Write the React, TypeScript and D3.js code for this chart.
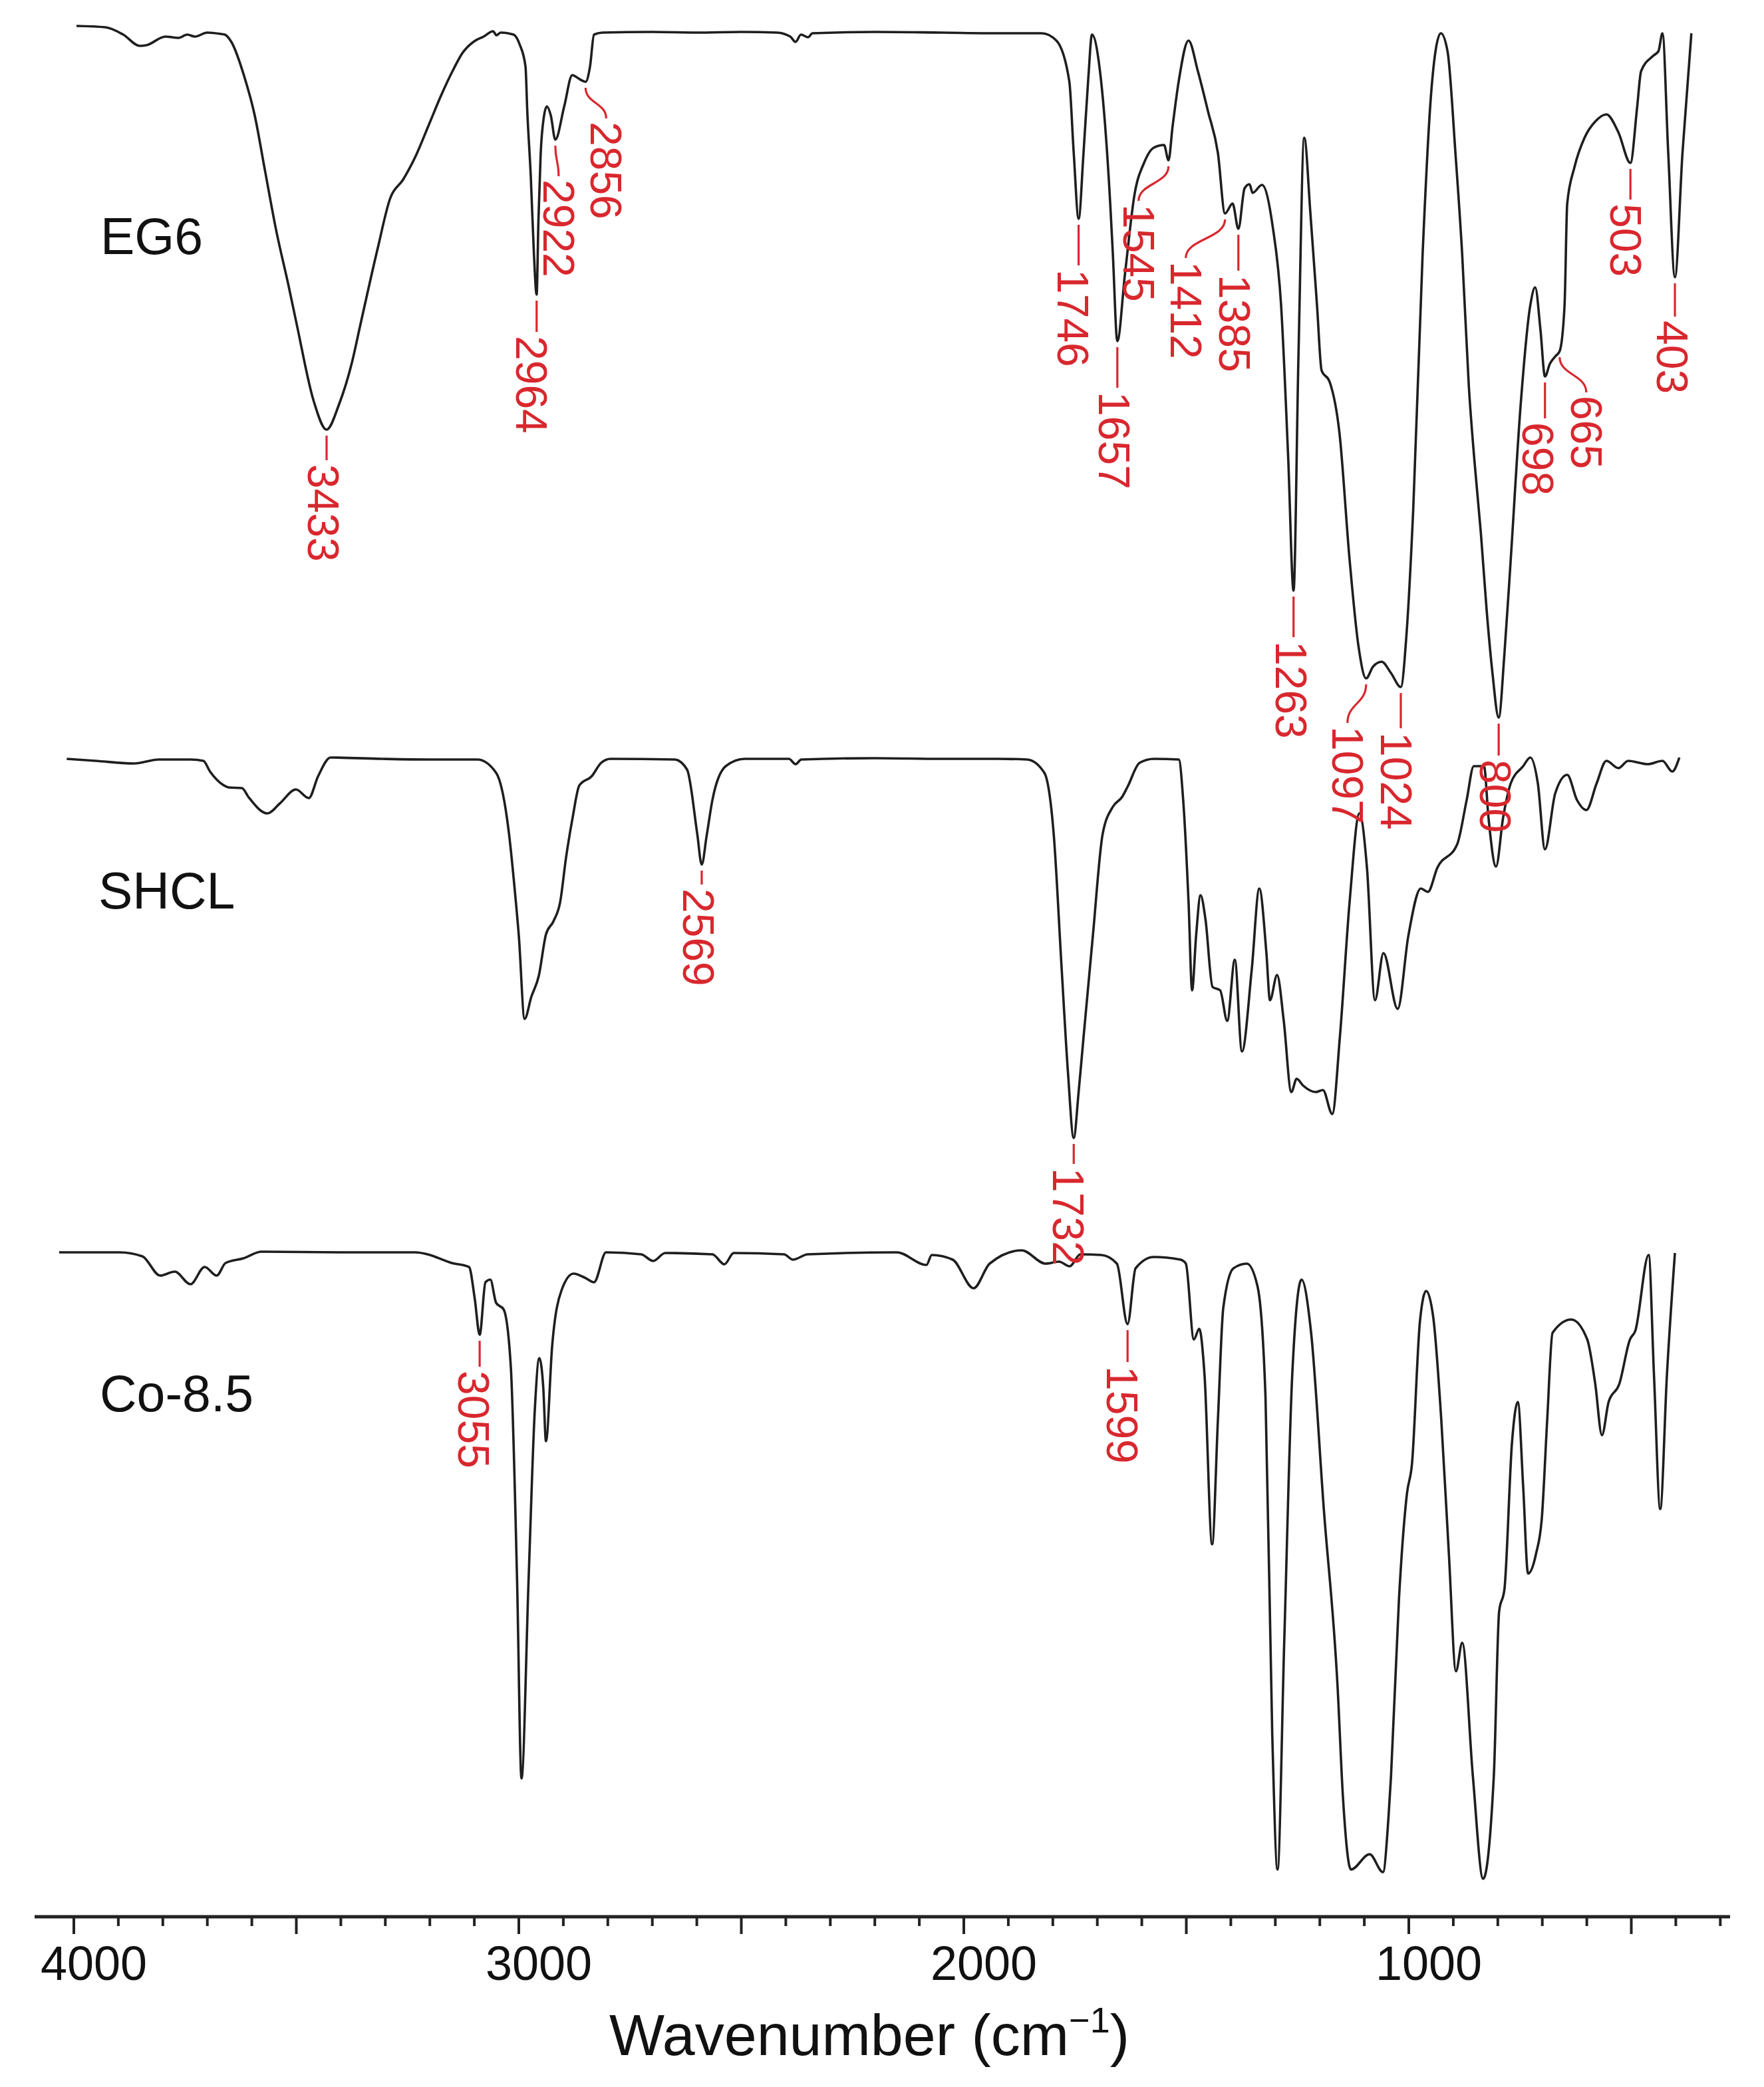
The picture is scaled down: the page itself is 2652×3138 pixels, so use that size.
import React from "react";
import * as d3 from "d3";

type Pt = [number, number];

// FTIR spectra: [wavenumber cm-1, transmittance (a.u., stacked)]
const eg6: Pt[] = [
  [3994, 284.3], [3929, 284.1], [3889, 283.0], [3852, 281.3], [3837, 281.4], [3794, 282.7],
  [3765, 282.5], [3745, 283.0], [3728, 282.7], [3700, 283.3], [3670, 283.1], [3661, 283.0],
  [3646, 281.9], [3617, 276.7], [3594, 271.0], [3570, 262.4], [3546, 253.8], [3517, 245.1],
  [3499, 239.4], [3461, 227.9], [3432, 223.6], [3404, 227.4], [3375, 233.7], [3356, 239.4],
  [3317, 250.9], [3289, 258.4], [3260, 261.2], [3232, 264.7], [3203, 269.3], [3175, 273.8],
  [3146, 277.9], [3127, 280.2], [3100, 282.0], [3079, 282.7], [3058, 283.5], [3050, 282.9],
  [3041, 283.3], [3012, 283.0], [2998, 281.5], [2985, 278.2], [2981, 271.5], [2973, 261.5],
  [2966, 249.9], [2960, 243.9], [2956, 254.9], [2951, 264.9], [2944, 270.5], [2937, 272.2],
  [2928, 270.8], [2918, 267.2], [2898, 272.2], [2880, 276.9], [2861, 276.2], [2850, 275.9],
  [2840, 278.2], [2831, 283.0], [2812, 283.3], [2700, 283.4], [2600, 283.3], [2500, 283.4],
  [2420, 283.3], [2390, 282.7], [2378, 281.9], [2366, 283.0], [2350, 282.6], [2340, 283.2],
  [2200, 283.4], [2050, 283.3], [1923, 283.2], [1825, 283.2], [1792, 282.1], [1763, 276.0],
  [1753, 265.2], [1742, 255.3], [1731, 265.2], [1720, 276.7], [1712, 283.0], [1694, 277.5],
  [1671, 257.6], [1665, 249.9], [1655, 236.9], [1638, 246.9], [1616, 259.1], [1595, 263.7],
  [1573, 266.0], [1550, 266.4], [1540, 264.1], [1531, 269.1], [1517, 276.0], [1495, 282.1],
  [1474, 277.5], [1451, 271.4], [1429, 265.2], [1413, 256.1], [1396, 257.6], [1383, 253.8],
  [1369, 259.9], [1358, 260.5], [1351, 259.2], [1330, 260.4], [1306, 254.2], [1287, 242.3],
  [1271, 219.3], [1259, 199.4], [1248, 234.6], [1235, 267.5], [1221, 256.0], [1206, 242.0],
  [1196, 232.5], [1178, 230.8], [1156, 223.2], [1133, 204.0], [1113, 191.0], [1096, 186.2],
  [1080, 188.0], [1061, 188.7], [1040, 187.0], [1018, 184.9], [1005, 193.0], [990, 211.7],
  [969, 249.9], [950, 274.0], [940, 280.5], [928, 283.2], [913, 280.5], [895, 265.0],
  [880, 249.9], [865, 230.0], [853, 219.3], [838, 208.0], [825, 196.4], [812, 187.0],
  [798, 180.3], [785, 190.0], [771, 204.0], [749, 227.0], [727, 242.3], [716, 245.0],
  [704, 238.5], [694, 231.6], [683, 233.5], [671, 234.6], [661, 235.4], [650, 242.3],
  [644, 257.6], [628, 263.0], [605, 267.5], [580, 270.0], [556, 271.0], [529, 268.3],
  [502, 263.7], [487, 272.0], [478, 277.5], [451, 279.8], [439, 280.5], [430, 283.2],
  [417, 265.2], [402, 246.5], [385, 265.2], [365, 283.2],
];

const shcl: Pt[] = [
  [4016, 174.1], [3951, 173.8], [3865, 173.4], [3809, 174.0], [3737, 174.0], [3709, 173.8],
  [3694, 172.2], [3665, 170.2], [3652, 169.8], [3622, 169.7], [3608, 168.4], [3565, 165.9],
  [3537, 167.4], [3501, 169.5], [3472, 168.2], [3451, 171.5], [3423, 174.3], [3308, 174.1],
  [3200, 174.0], [3093, 174.0], [3051, 172.0], [3022, 162.8], [3010, 155.0], [3000, 147.5],
  [2987, 135.0], [2972, 138.3], [2955, 141.5], [2939, 147.7], [2922, 149.7], [2907, 152.6],
  [2894, 159.2], [2879, 165.3], [2864, 170.1], [2836, 171.5], [2815, 173.5], [2794, 174.1],
  [2650, 174.0], [2622, 172.5], [2599, 162.8], [2589, 158.2], [2578, 162.5], [2565, 167.9],
  [2535, 173.0], [2493, 174.1], [2393, 174.1], [2378, 173.3], [2365, 174.0], [2200, 174.2],
  [2050, 174.1], [1924, 174.1], [1858, 174.0], [1819, 172.0], [1798, 162.8], [1780, 142.4],
  [1766, 127.0], [1753, 117.1], [1742, 124.0], [1731, 132.2], [1710, 147.5], [1688, 162.8],
  [1665, 166.9], [1644, 168.4], [1632, 169.9], [1605, 173.5], [1573, 174.1], [1517, 174.0],
  [1507, 167.9], [1495, 152.6], [1487, 139.3], [1478, 147.5], [1468, 153.6], [1457, 150.0],
  [1441, 139.8], [1424, 139.3], [1408, 134.7], [1391, 143.9], [1375, 130.1], [1353, 142.4],
  [1336, 154.6], [1320, 144.9], [1312, 137.8], [1296, 141.6], [1281, 134.7], [1264, 124.0],
  [1252, 126.0], [1238, 125.0], [1209, 124.0], [1193, 124.3], [1172, 120.7], [1155, 132.2],
  [1133, 152.6], [1111, 165.9], [1094, 157.7], [1076, 137.8], [1057, 144.9], [1025, 136.5],
  [1001, 147.5], [973, 154.6], [957, 154.1], [936, 157.7], [891, 161.3], [870, 167.9],
  [854, 173.0], [831, 173.0], [821, 165.3], [804, 157.9], [788, 165.3], [771, 170.4],
  [743, 173.0], [727, 174.3], [710, 170.4], [694, 160.5], [671, 168.9], [644, 171.7],
  [622, 167.9], [601, 166.4], [578, 170.4], [556, 173.8], [529, 172.7], [507, 173.8],
  [463, 173.3], [430, 173.8], [408, 172.2], [392, 174.3],
];

const co85: Pt[] = [
  [4033, 99.9], [3898, 99.9], [3846, 99.3], [3806, 96.4], [3773, 97.0], [3738, 95.1],
  [3706, 97.7], [3679, 96.4], [3659, 98.3], [3619, 99.0], [3578, 100.0], [3400, 99.9],
  [3232, 99.9], [3205, 99.6], [3151, 98.3], [3112, 97.7], [3099, 92.9], [3088, 87.5],
  [3075, 95.4], [3064, 95.8], [3051, 92.3], [3034, 91.3], [3018, 82.7], [3004, 50.8],
  [2994, 20.8], [2978, 50.8], [2964, 76.3], [2954, 84.0], [2945, 79.5], [2939, 71.5],
  [2925, 85.9], [2904, 94.2], [2877, 96.7], [2852, 96.1], [2831, 95.4], [2804, 99.9],
  [2725, 99.6], [2698, 98.6], [2671, 99.8], [2565, 99.6], [2538, 98.1], [2517, 99.8],
  [2404, 99.6], [2384, 98.8], [2351, 99.6], [2151, 99.9], [2084, 98.0], [2072, 99.5],
  [2025, 98.8], [1978, 94.5], [1942, 98.2], [1870, 100.2], [1816, 98.2], [1786, 98.5],
  [1762, 97.8], [1738, 99.6], [1691, 99.5], [1656, 98.2], [1632, 89.1], [1614, 97.5],
  [1573, 99.2], [1513, 98.8], [1501, 98.2], [1483, 86.8], [1471, 88.4], [1459, 81.4],
  [1442, 56.0], [1429, 74.7], [1417, 91.5], [1394, 97.5], [1364, 98.2], [1340, 94.8],
  [1322, 78.1], [1307, 27.8], [1295, 7.1], [1280, 41.2], [1262, 81.4], [1241, 95.8],
  [1220, 88.1], [1191, 61.3], [1160, 34.5], [1148, 18.0], [1130, 7.1], [1088, 9.4],
  [1058, 6.7], [1046, 14.6], [1040, 21.1], [1022, 47.9], [1004, 63.7], [993, 68.0],
  [975, 89.5], [961, 94.1], [945, 90.1], [927, 74.7], [910, 54.6], [894, 36.9],
  [880, 41.2], [856, 21.1], [833, 5.7], [809, 21.1], [797, 45.9], [785, 49.3],
  [768, 71.4], [755, 77.4], [743, 64.7], [732, 51.6], [714, 54.6], [701, 60.0],
  [689, 74.7], [677, 87.8], [635, 89.8], [599, 86.8], [581, 80.1], [566, 72.4],
  [551, 77.4], [527, 80.1], [503, 86.8], [491, 88.1], [461, 99.5], [449, 81.4],
  [435, 61.3], [420, 81.4], [402, 99.8],
];

const seriesNames = ["EG6", "SHCL", "Co-8.5"];
const xTickLabels = [4000, 3000, 2000, 1000];

// peak annotations: series index, label text, wavenumber of the marked point
const peakSeries = [0, 0, 0, 0, 0, 0, 0, 0, 0, 0, 0, 0, 0, 0, 0, 0, 0, 1, 1, 2, 2];
const peakText = ["3433", "2964", "2922", "2856", "1746", "1657", "1545", "1412", "1385", "1263",
  "1097", "1024", "800", "698", "665", "503", "403", "2569", "1732", "3055", "1599"];
const peakAt = [3432, 2960, 2918, 2850, 1742, 1655, 1540, 1413, 1383, 1259,
  1096, 1018, 798, 694, 661, 502, 402, 2589, 1753, 3088, 1632];

// ---------- layout ----------
const W = 2652;
const H = 3138;
const AXIS_Y = 2882;
const FONT = "'Liberation Sans', Arial, Helvetica, sans-serif";
const RED = "#d9272e";
const INK = "#1e1e1e";

// label placement (text centre offset, text top offset, bent leader)
const labelDx = [-5, -8, 5, 31, -9, -5, -45, -59, -6, -4, -28, -7, -5, -11, 40, -7, -4, -5, -8, -9, -8];
const labelDy = [52, 62, 60, 60, 76, 76, 66, 72, 69, 76, 72, 68, 63, 69, 67, 61, 65, 36, 45, 54, 63];
const labelHook = [false, false, true, true, false, false, true, true, false, false, true, false, false, false, true, false, false, false, false, false, false];

const nameX = [151, 148, 150];
const nameY = [382, 1366, 2122];

export default function App() {
  const x = d3.scaleLinear().domain([4000, 1000]).range([111, 2118]);
  const y = d3.scaleLinear().domain([0, 288.2]).range([AXIS_Y, 0]);
  const series = [eg6, shcl, co85];

  const line = d3
    .line<Pt>()
    .x((d) => x(d[0]))
    .y((d) => y(d[1]))
    .curve(d3.curveMonotoneX);

  const axisStart = x.invert(52);
  const axisEnd = x.invert(2601);
  const ticks = d3.range(300, 4001, 100);

  const nearest = (s: Pt[], w: number) => {
    let best = s[0];
    for (const p of s) if (Math.abs(p[0] - w) < Math.abs(best[0] - w)) best = p;
    return best;
  };

  return (
    <svg
      width={W}
      height={H}
      viewBox={`0 0 ${W} ${H}`}
      style={{ position: "absolute", left: 0, top: 0, background: "#fff" }}
      fontFamily={FONT}
    >
      <rect x={0} y={0} width={W} height={H} fill="#fff" />

      {/* spectra */}
      {series.map((s, i) => (
        <path key={i} d={line(s) || ""} fill="none" stroke={INK} strokeWidth={3.6} strokeLinejoin="round" />
      ))}

      {/* series names */}
      {seriesNames.map((n, i) => (
        <text key={n} x={nameX[i]} y={nameY[i]} fontSize={77} fill="#111">
          {n}
        </text>
      ))}

      {/* peak labels */}
      {peakText.map((t, i) => {
        const p = nearest(series[peakSeries[i]], peakAt[i]);
        const ax = x(p[0]);
        const ay = y(p[1]);
        const tx = ax + labelDx[i];
        const ty = ay + labelDy[i];
        let leader: string;
        if (labelHook[i]) {
          const y0 = ay + 9;
          const y1 = ty - 5;
          const k = (y1 - y0) / 2;
          leader = `M${ax},${y0} C${ax},${y0 + k} ${tx},${y1 - k} ${tx},${y1}`;
        } else {
          leader = `M${ax},${ay + 9} L${ax},${ty - 6}`;
        }
        return (
          <g key={i}>
            <path d={leader} fill="none" stroke={RED} strokeWidth={3.2} />
            <text
              transform={`translate(${tx},${ty}) rotate(90)`}
              fontSize={66}
              fill={RED}
              textAnchor="start"
              dominantBaseline="central"
            >
              {t}
            </text>
          </g>
        );
      })}

      {/* x axis */}
      <line x1={x(axisStart)} x2={x(axisEnd)} y1={AXIS_Y} y2={AXIS_Y} stroke="#222" strokeWidth={5} />
      {ticks.map((w) => (
        <line
          key={w}
          x1={x(w)}
          x2={x(w)}
          y1={AXIS_Y}
          y2={AXIS_Y + (w % 500 === 0 ? 26 : 14)}
          stroke="#222"
          strokeWidth={4}
        />
      ))}
      {xTickLabels.map((w) => (
        <text key={w} x={x(w) + 30} y={2977} fontSize={72} textAnchor="middle" fill="#111">
          {w}
        </text>
      ))}
      <text x={1307} y={3090} fontSize={88} textAnchor="middle" fill="#111">
        Wavenumber (cm
        <tspan dy={-34} fontSize={54}>
          −1
        </tspan>
        <tspan dy={34}>)</tspan>
      </text>
    </svg>
  );
}
